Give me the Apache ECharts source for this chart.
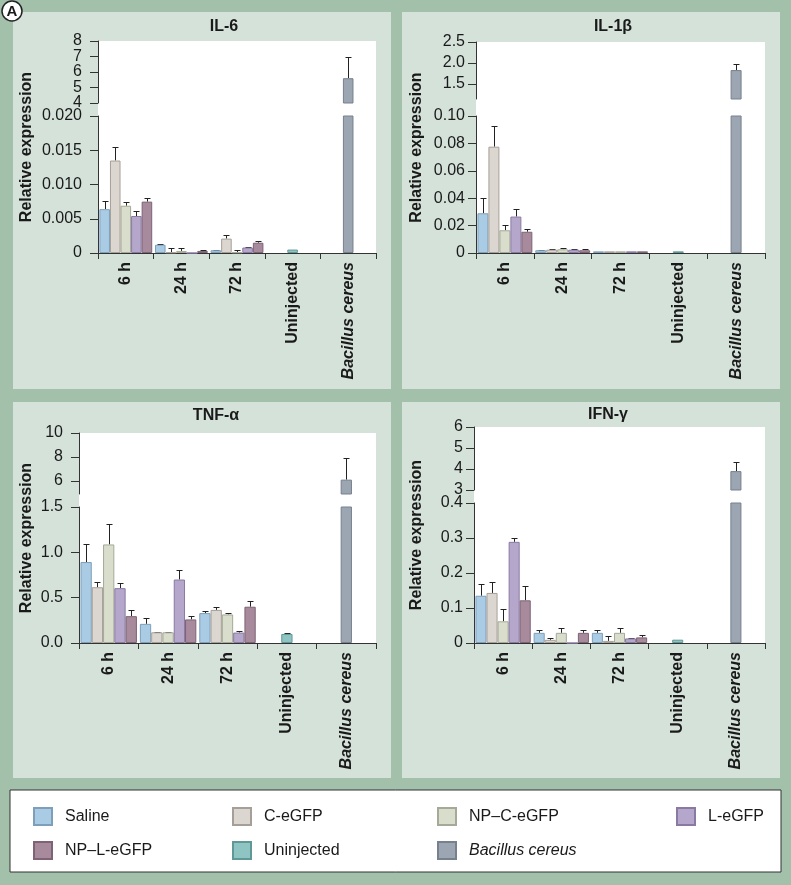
<!DOCTYPE html>
<html><head><meta charset="utf-8">
<script src="https://cdn.jsdelivr.net/npm/echarts@6/dist/echarts.min.js"></script>
<style>html,body{margin:0;padding:0;background:#a2c0aa}#c{width:791px;height:885px}</style>
</head><body><div id="c"></div>
<script>
const FONT = "'Liberation Sans', Arial, Helvetica, sans-serif";
const categories = ['6 h', '24 h', '72 h', 'Uninjected', 'Bacillus cereus'];
const groupNames = ['Saline', 'C-eGFP', 'NP–C-eGFP', 'L-eGFP', 'NP–L-eGFP'];
const controlNames = ['Uninjected', 'Bacillus cereus'];
const panelTitles = ['IL-6', 'IL-1β', 'TNF-α', 'IFN-γ'];
const yAxisName = 'Relative expression';

// ---- IL-6 (values at 6 h, 24 h, 72 h) ----
const il6Saline = [0.0064, 0.0012, 0.0004];
const il6SalineErr = [0.0012, 0.0001, 0.0001];
const il6CeGFP = [0.0135, 0.0001, 0.0021];
const il6CeGFPErr = [0.0020, 0.0006, 0.0005];
const il6NPCeGFP = [0.0069, 0.0003, 0.0001];
const il6NPCeGFPErr = [0.0006, 0.0004, 0.0004];
const il6LeGFP = [0.0054, 0, 0.0008];
const il6LeGFPErr = [0.0007, 0, 0.0001];
const il6NPLeGFP = [0.0075, 0.0003, 0.0015];
const il6NPLeGFPErr = [0.0005, 0.0002, 0.0002];
const il6Controls = [0.0005, 5.6];      // Uninjected, Bacillus cereus
const il6ControlsErr = [0, 1.4];
const il6LowerTicks = [0, 0.005, 0.010, 0.015, 0.020];
const il6LowerLabels = ['0', '0.005', '0.010', '0.015', '0.020'];
const il6UpperTicks = [4, 5, 6, 7, 8];
const il6UpperLabels = ['4', '5', '6', '7', '8'];
const il6UpperRange = [4, 8];

// ---- IL-1β ----
const il1bSaline = [0.0290, 0.0020, 0.0012];
const il1bSalineErr = [0.0110, 0.0004, 0];
const il1bCeGFP = [0.0776, 0.0024, 0.0012];
const il1bCeGFPErr = [0.0148, 0.0003, 0];
const il1bNPCeGFP = [0.0166, 0.0027, 0.0012];
const il1bNPCeGFPErr = [0.0041, 0.0012, 0];
const il1bLeGFP = [0.0266, 0.0024, 0.0012];
const il1bLeGFPErr = [0.0058, 0.0003, 0];
const il1bNPLeGFP = [0.0155, 0.0020, 0.0012];
const il1bNPLeGFPErr = [0.0023, 0.0007, 0];
const il1bControls = [0.0012, 1.83];
const il1bControlsErr = [0, 0.14];
const il1bLowerTicks = [0, 0.02, 0.04, 0.06, 0.08, 0.10];
const il1bLowerLabels = ['0', '0.02', '0.04', '0.06', '0.08', '0.10'];
const il1bUpperTicks = [1.5, 2.0, 2.5];
const il1bUpperLabels = ['1.5', '2.0', '2.5'];
const il1bUpperRange = [1.14, 2.5];

// ---- TNF-α ----
const tnfSaline = [0.893, 0.211, 0.330];
const tnfSalineErr = [0.197, 0.060, 0.020];
const tnfCeGFP = [0.615, 0.118, 0.365];
const tnfCeGFPErr = [0.055, 0.007, 0.027];
const tnfNPCeGFP = [1.087, 0.118, 0.315];
const tnfNPCeGFPErr = [0.223, 0.007, 0.020];
const tnfLeGFP = [0.605, 0.700, 0.115];
const tnfLeGFPErr = [0.060, 0.100, 0.022];
const tnfNPLeGFP = [0.296, 0.260, 0.400];
const tnfNPLeGFPErr = [0.067, 0.042, 0.065];
const tnfControls = [0.100, 6.1];
const tnfControlsErr = [0.011, 1.8];
const tnfLowerTicks = [0, 0.5, 1.0, 1.5];
const tnfLowerLabels = ['0.0', '0.5', '1.0', '1.5'];
const tnfUpperTicks = [6, 8, 10];
const tnfUpperLabels = ['6', '8', '10'];
const tnfUpperRange = [4.9, 10];

// ---- IFN-γ ----
const ifnSaline = [0.135, 0.029, 0.029];
const ifnSalineErr = [0.035, 0.008, 0.008];
const ifnCeGFP = [0.143, 0.009, 0.006];
const ifnCeGFPErr = [0.032, 0.004, 0.015];
const ifnNPCeGFP = [0.062, 0.029, 0.029];
const ifnNPCeGFPErr = [0.036, 0.013, 0.013];
const ifnLeGFP = [0.289, 0, 0.013];
const ifnLeGFPErr = [0.012, 0, 0.001];
const ifnNPLeGFP = [0.122, 0.029, 0.016];
const ifnNPLeGFPErr = [0.042, 0.008, 0.007];
const ifnControls = [0.0095, 3.9];
const ifnControlsErr = [0, 0.45];
const ifnLowerTicks = [0, 0.1, 0.2, 0.3, 0.4];
const ifnLowerLabels = ['0', '0.1', '0.2', '0.3', '0.4'];
const ifnUpperTicks = [3, 4, 5, 6];
const ifnUpperLabels = ['3', '4', '5', '6'];
const ifnUpperRange = [3, 6];

// ---- styles ----
const fillColors = ['#a9cbe3', '#dcd6d0', '#d9ddcb', '#b5a6cb', '#a78a9c', '#8ec5c3', '#9ba6b2'];
const borderColors = ['#7e9fba', '#a69f98', '#a4a998', '#8a7aa2', '#7d6375', '#5f9896', '#76818d'];

const panels = [
  { groups: [il6Saline, il6CeGFP, il6NPCeGFP, il6LeGFP, il6NPLeGFP],
    errs: [il6SalineErr, il6CeGFPErr, il6NPCeGFPErr, il6LeGFPErr, il6NPLeGFPErr],
    ctrl: il6Controls, ctrlErr: il6ControlsErr,
    lt: il6LowerTicks, ll: il6LowerLabels, ut: il6UpperTicks, ul: il6UpperLabels, ur: il6UpperRange },
  { groups: [il1bSaline, il1bCeGFP, il1bNPCeGFP, il1bLeGFP, il1bNPLeGFP],
    errs: [il1bSalineErr, il1bCeGFPErr, il1bNPCeGFPErr, il1bLeGFPErr, il1bNPLeGFPErr],
    ctrl: il1bControls, ctrlErr: il1bControlsErr,
    lt: il1bLowerTicks, ll: il1bLowerLabels, ut: il1bUpperTicks, ul: il1bUpperLabels, ur: il1bUpperRange },
  { groups: [tnfSaline, tnfCeGFP, tnfNPCeGFP, tnfLeGFP, tnfNPLeGFP],
    errs: [tnfSalineErr, tnfCeGFPErr, tnfNPCeGFPErr, tnfLeGFPErr, tnfNPLeGFPErr],
    ctrl: tnfControls, ctrlErr: tnfControlsErr,
    lt: tnfLowerTicks, ll: tnfLowerLabels, ut: tnfUpperTicks, ul: tnfUpperLabels, ur: tnfUpperRange },
  { groups: [ifnSaline, ifnCeGFP, ifnNPCeGFP, ifnLeGFP, ifnNPLeGFP],
    errs: [ifnSalineErr, ifnCeGFPErr, ifnNPCeGFPErr, ifnLeGFPErr, ifnNPLeGFPErr],
    ctrl: ifnControls, ctrlErr: ifnControlsErr,
    lt: ifnLowerTicks, ll: ifnLowerLabels, ut: ifnUpperTicks, ul: ifnUpperLabels, ur: ifnUpperRange }
];

// ---- layout (pixels) ----
const layout = [
  { x: 13, y: 12, w: 378, h: 377, L: 98, R: 376, uT: 41, uB: 103, lT: 116, lB: 253, tx: 224, ty: 27, nx: 27, margin: 16 },
  { x: 402, y: 12, w: 378, h: 377, L: 476, R: 765, uT: 42, uB: 99, lT: 116, lB: 253, tx: 613, ty: 27, nx: 417, margin: 11 },
  { x: 13, y: 402, w: 378, h: 376, L: 79, R: 376, uT: 433, uB: 494, lT: 507, lB: 643, tx: 216, ty: 416, nx: 27, margin: 16 },
  { x: 402, y: 402, w: 378, h: 376, L: 474, R: 765, uT: 427, uB: 490, lT: 503, lB: 643, tx: 608, ty: 415, nx: 417, margin: 11 }
];
const GAP_FRAC = 0.05;

const grids = [], xAxes = [], yAxes = [], series = [], graphics = [];

// background panels
layout.forEach((lo, p) => {
  graphics.push({ type: 'rect', z: -10, shape: { x: lo.x, y: lo.y, width: lo.w, height: lo.h }, style: { fill: '#d5e2da' } });
  graphics.push({ type: 'rect', z: -9, shape: { x: lo.L, y: lo.uT, width: lo.R - lo.L, height: lo.lB - lo.uT }, style: { fill: '#ffffff' } });
  graphics.push({ type: 'text', z: 10, x: lo.tx, y: lo.ty, style: { text: panelTitles[p], font: 'bold 16px ' + FONT, fill: '#1a1a1a', align: 'center', verticalAlign: 'middle' } });
  graphics.push({ type: 'text', z: 10, x: lo.nx, y: (lo.uT + lo.lB) / 2, rotation: Math.PI / 2,
    style: { text: yAxisName, font: 'bold 16px ' + FONT, fill: '#1a1a1a', align: 'center', verticalAlign: 'middle' } });
});

function labelFmt(ticks, labels) {
  return function (v) {
    let best = 0, bd = Infinity;
    ticks.forEach((t, i) => { const d = Math.abs(t - v); if (d < bd) { bd = d; best = i; } });
    return labels[best];
  };
}

function errRender(params, api) {
  const k = api.value(0), m = api.value(1), e = api.value(2), off = api.value(3);
  if (!(e > 0)) return;
  const c0 = api.coord([k, m]);
  const c1 = api.coord([k, m + e]);
  const band = api.size([1, 0])[0];
  const bw = band * (1 - GAP_FRAC) / 5;
  const x = Math.round(c0[0] + off * bw) + 0.5;
  const y1 = Math.round(c1[1]) + 0.5;
  return { type: 'group', children: [
    { type: 'line', shape: { x1: x, y1: c0[1], x2: x, y2: y1 }, style: { stroke: '#222', lineWidth: 1 } },
    { type: 'line', shape: { x1: x - 3, y1: y1, x2: x + 3, y2: y1 }, style: { stroke: '#222', lineWidth: 1 } }
  ] };
}

panels.forEach((pd, p) => {
  const lo = layout[p];
  [0, 1].forEach(part => {   // 0 = upper (broken part), 1 = lower
    const g = grids.length;
    const top = part === 0 ? lo.uT : lo.lT;
    const bottom = part === 0 ? lo.uB : lo.lB;
    grids.push({ left: lo.L, top: top, width: lo.R - lo.L, height: bottom - top, containLabel: false });
    const isLower = part === 1;
    xAxes.push({
      gridIndex: g, type: 'category', data: categories, show: isLower,
      axisLine: { lineStyle: { color: '#333', width: 1 } },
      axisTick: { show: true, length: 6, lineStyle: { color: '#333' } },
      axisLabel: {
        interval: 0, rotate: 90, margin: 9, fontFamily: FONT, fontSize: 16, fontWeight: 'bold', color: '#1a1a1a',
        formatter: v => v === 'Bacillus cereus' ? '{i|' + v + '}' : v,
        rich: { i: { fontStyle: 'italic', fontWeight: 'bold', fontSize: 16, fontFamily: FONT, color: '#1a1a1a' } }
      }
    });
    xAxes.push({ gridIndex: g, type: 'category', data: categories, show: false });
    const ticks = isLower ? pd.lt : pd.ut;
    const labels = isLower ? pd.ll : pd.ul;
    const amin = isLower ? pd.lt[0] : pd.ur[0];
    const amax = isLower ? pd.lt[pd.lt.length - 1] : pd.ur[1];
    const evenTicks = ticks.filter((t, i) => i % 2 === 0);
    const oddTicks = ticks.filter((t, i) => i % 2 === 1);
    const yMain = yAxes.length;
    // main axis: line, all ticks, every other label
    yAxes.push({
      gridIndex: g, type: 'value', min: amin, max: amax, position: 'left', offset: 0,
      splitLine: { show: false },
      axisLine: { show: true, lineStyle: { color: '#333', width: 1 } },
      axisTick: { show: true, length: 8, customValues: ticks, lineStyle: { color: '#333' } },
      axisLabel: { customValues: evenTicks, formatter: labelFmt(ticks, labels), margin: lo.margin,
        showMinLabel: true, showMaxLabel: true, hideOverlap: false,
        fontFamily: FONT, fontSize: 16, color: '#1a1a1a' }
    });
    // companion axis: remaining labels only
    yAxes.push({
      gridIndex: g, type: 'value', min: amin, max: amax, position: 'left', offset: 0,
      splitLine: { show: false }, axisLine: { show: false }, axisTick: { show: false },
      axisLabel: { show: oddTicks.length > 0, customValues: oddTicks.length ? oddTicks : [amin],
        formatter: labelFmt(ticks, labels), margin: lo.margin,
        showMinLabel: true, showMaxLabel: true, hideOverlap: false,
        fontFamily: FONT, fontSize: 16, color: '#1a1a1a' }
    });
    const xi = g * 2;
    groupNames.forEach((name, i) => {
      series.push({
        type: 'bar', name: name, xAxisIndex: xi, yAxisIndex: yMain, clip: true,
        barGap: '0%', barCategoryGap: (GAP_FRAC * 100) + '%',
        itemStyle: { color: fillColors[i], borderColor: borderColors[i], borderWidth: 1 },
        data: categories.map((c, k) => k < 3 ? pd.groups[i][k] : '-'),
        silent: true, animation: false
      });
      series.push({
        type: 'custom', xAxisIndex: xi, yAxisIndex: yMain, clip: true, renderItem: errRender, silent: true, animation: false,
        encode: { x: 0, y: 1 },
        data: [0, 1, 2].map(k => [k, pd.groups[i][k], pd.errs[i][k], i - 2])
      });
    });
    controlNames.forEach((name, j) => {
      series.push({
        type: 'bar', name: name, xAxisIndex: xi + 1, yAxisIndex: yMain, clip: true, stack: 'ctrl' + g,
        barCategoryGap: ((1 - (1 - GAP_FRAC) / 5) * 100) + '%',
        itemStyle: { color: fillColors[5 + j], borderColor: borderColors[5 + j], borderWidth: 1 },
        data: categories.map((c, k) => k === 3 + j ? pd.ctrl[j] : '-'),
        silent: true, animation: false
      });
    });
    series.push({
      type: 'custom', xAxisIndex: xi, yAxisIndex: yMain, clip: true, renderItem: errRender, silent: true, animation: false,
      encode: { x: 0, y: 1 },
      data: [0, 1].map(j => [3 + j, pd.ctrl[j], pd.ctrlErr[j], 0])
    });
  });
});

// legend box and badge
graphics.push({ type: 'rect', z: -10, shape: { x: 10, y: 790, width: 771, height: 82 }, style: { fill: '#ffffff', stroke: '#333', lineWidth: 1 } });
graphics.push({ type: 'circle', z: 10, shape: { cx: 12, cy: 11, r: 10 }, style: { fill: '#ffffff', stroke: '#222', lineWidth: 1.5 } });
graphics.push({ type: 'text', z: 11, x: 12, y: 11.5, style: { text: 'A', font: 'bold 15px ' + FONT, fill: '#1a1a1a', align: 'center', verticalAlign: 'middle' } });

const legendCols = [
  { left: 28, data: ['Saline', 'NP–L-eGFP'] },
  { left: 227, data: ['C-eGFP', 'Uninjected'] },
  { left: 432, data: ['NP–C-eGFP', 'Bacillus cereus'] },
  { left: 671, data: ['L-eGFP'] }
];
const legends = legendCols.map(c => ({
  left: c.left, top: 802, orient: 'vertical', itemWidth: 18, itemHeight: 17, itemGap: 15,
  icon: 'rect', selectedMode: false, data: c.data,
  formatter: n => n === 'Bacillus cereus' ? '{i|' + n + '}' : n,
  textStyle: { fontFamily: FONT, fontSize: 16, color: '#1a1a1a', padding: [0, 0, 0, 8],
    rich: { i: { fontStyle: 'italic', fontFamily: FONT, fontSize: 16, color: '#1a1a1a' } } }
}));

const chart = echarts.init(document.getElementById('c'), null, { renderer: 'canvas' });
chart.setOption({
  backgroundColor: '#a2c0aa',
  animation: false,
  grid: grids, xAxis: xAxes, yAxis: yAxes, series: series,
  legend: legends,
  graphic: { elements: graphics }
});
</script></body></html>
